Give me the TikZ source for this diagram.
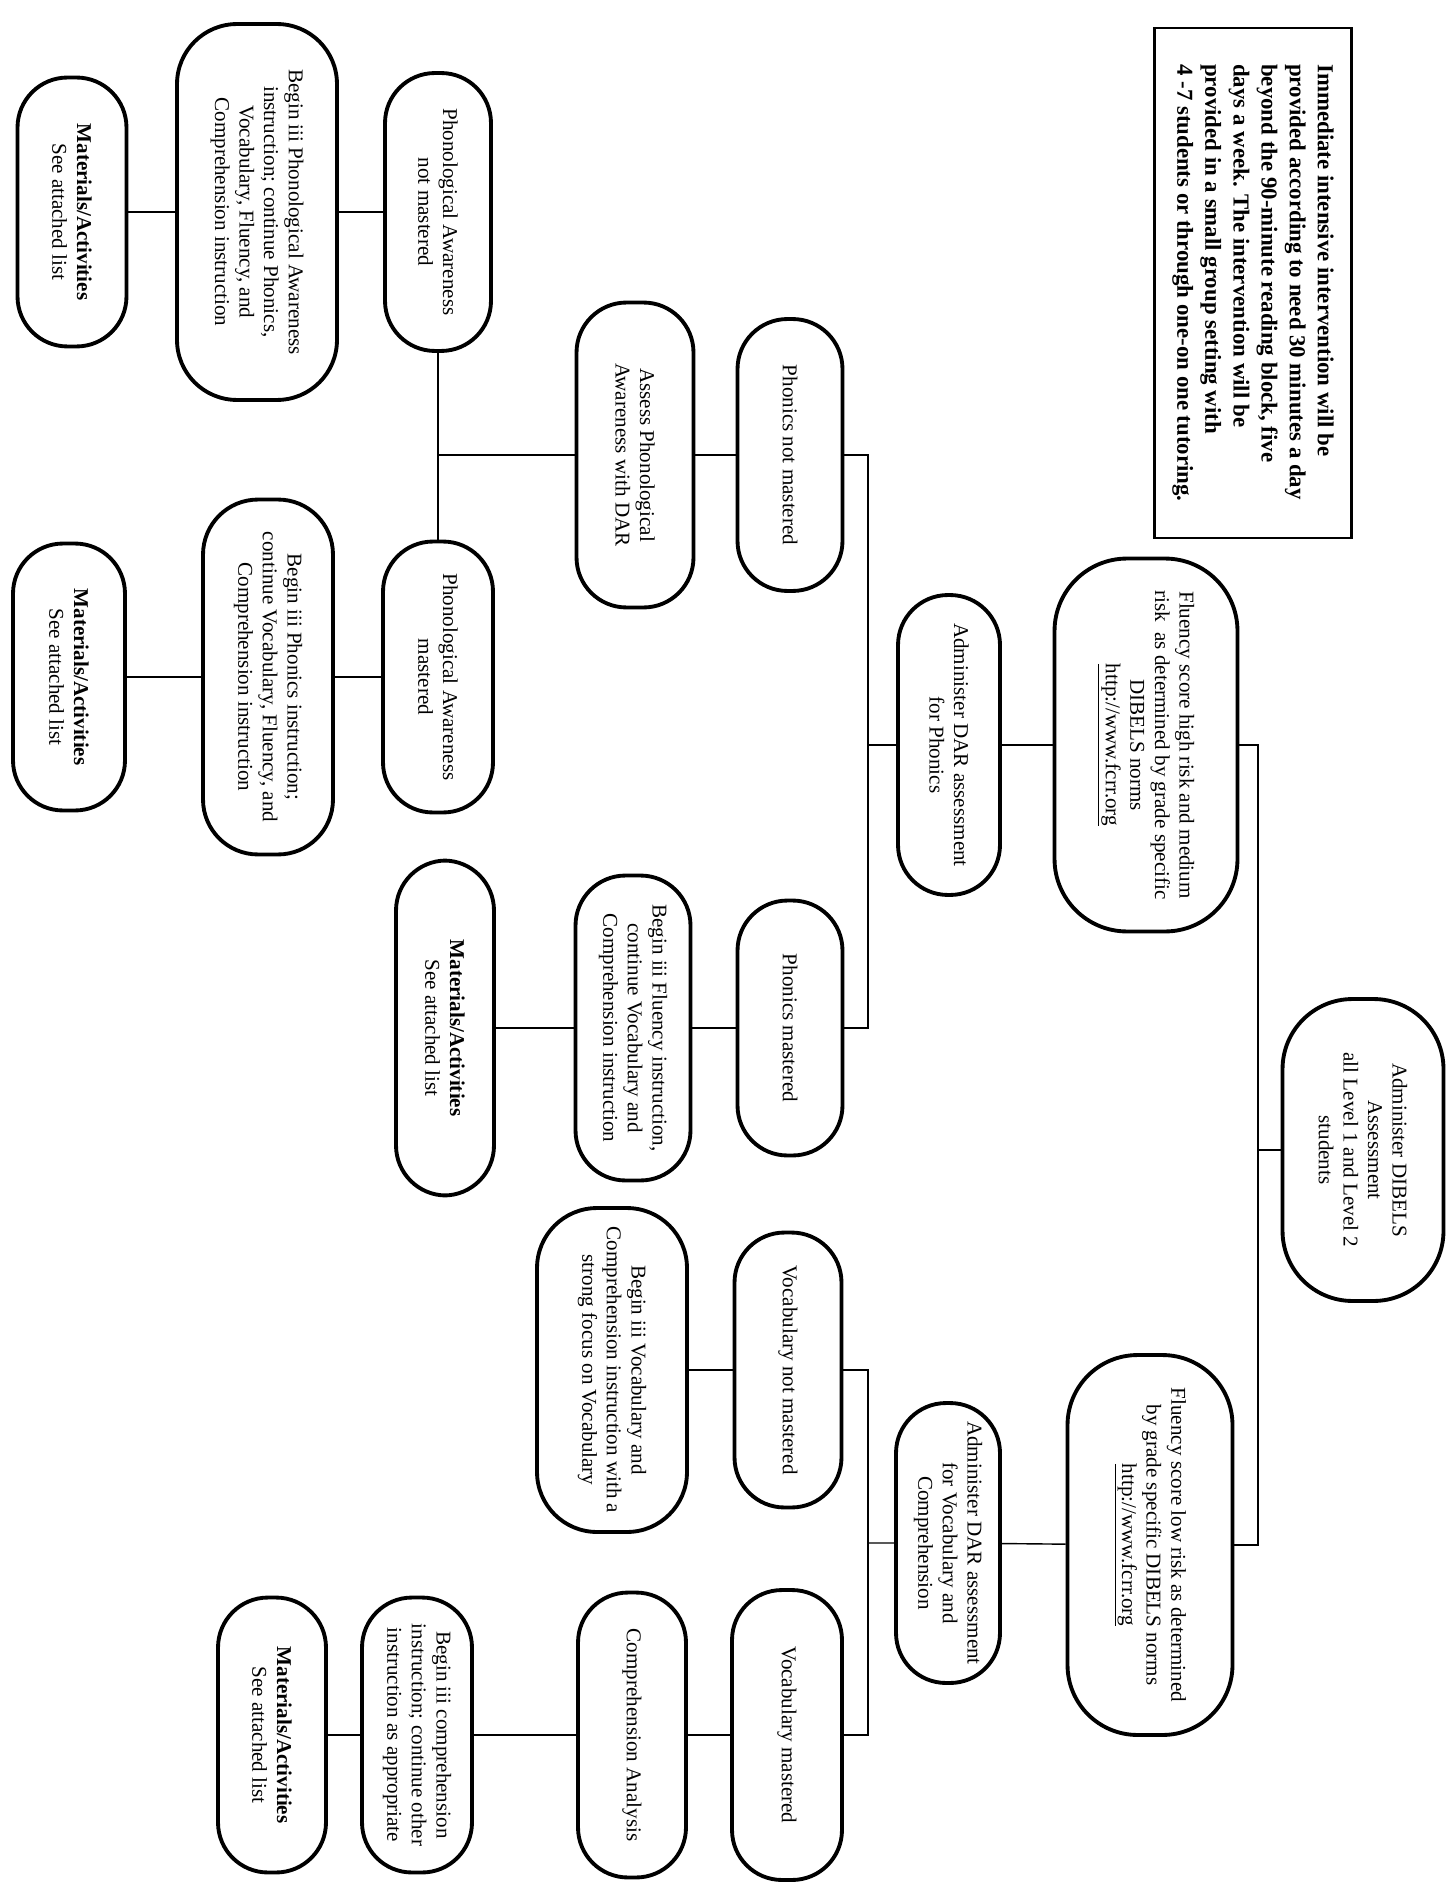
\documentclass[tikz,border=0pt]{standalone}
\usepackage{fontspec}
\setmainfont{Liberation Serif}

\begin{document}
\begin{tikzpicture}[
        x=0.02cm, y=-0.02cm,
        pill/.style={draw, line width=2.2pt, rounded corners=1cm, rotate=-90, inner sep=2pt, align=center, fill=white, font=\fontsize{12}{14}\selectfont},
        dim/.style 2 args={minimum height=#1, minimum width=#2},
        line/.style={line width=0.8pt}
    ]
        \useasboundingbox (0,0) rectangle (1450,1895);

        % note
        \node[draw, line width=1.4pt, rotate=-90, dim={3.94cm}{10.2cm}, align=left, font=\fontsize{13}{16}\bfseries\selectfont] (note) at (1253,283) {Immediate intensive intervention will be\\provided according to need 30 minutes a day\\beyond the 90-minute reading block, five\\days a week. The intervention  will be\\provided in a small group setting with\\4 -7 students or through one-on one tutoring.};

        % start and fluency split
        \node[pill, dim={3.22cm}{6.04cm}, rounded corners=1.4cm] (dibels) at (1363,1150) {Administer DIBELS\\Assessment\\all Level 1 and Level 2\\students};
        \node[pill, dim={3.66cm}{7.46cm}, rounded corners=1.45cm] (fluHigh) at (1146,745) {Fluency score high risk and medium\\risk~ as determined by grade specific\\DIBELS norms\\\underline{http://www.fcrr.org}};
        \node[pill, dim={3.3cm}{7.6cm}, rounded corners=1.4cm] (fluLow) at (1150,1545) {Fluency score low risk as determined\\by grade specific DIBELS norms\\\underline{http://www.fcrr.org}};

        % phonics branch
        \node[pill, dim={2.04cm}{6.0cm}] (adminPh) at (949,745) {Administer DAR assessment\\for Phonics};
        \node[pill, dim={2.1cm}{5.44cm}] (phNot) at (790,455) {Phonics not mastered};
        \node[pill, dim={2.1cm}{5.1cm}] (phMast) at (790,1028) {Phonics mastered};
        \node[pill, dim={2.34cm}{6.1cm}] (assessPA) at (635,455) {Assess Phonological\\Awareness with DAR};
        \node[pill, dim={2.3cm}{6.1cm}] (beginFl) at (633,1028) {Begin iii Fluency instruction,\\continue Vocabulary and\\Comprehension instruction};
        \node[pill, dim={1.96cm}{6.7cm}] (matFl) at (445,1028) {\textbf{Materials/Activities}\\See attached list};

        % phonological awareness
        \node[pill, dim={2.12cm}{5.56cm}] (paNot) at (438,212) {Phonological Awareness\\not mastered};
        \node[pill, dim={2.2cm}{5.42cm}] (paMast) at (438,677) {Phonological Awareness\\mastered};
        \node[pill, dim={3.2cm}{7.52cm}, rounded corners=1.2cm] (beginPA) at (257,212) {Begin iii Phonological Awareness\\instruction; continue Phonics,\\Vocabulary, Fluency, and\\Comprehension instruction};
        \node[pill, dim={2.6cm}{7.1cm}, rounded corners=1.1cm] (beginPh) at (268,677) {Begin iii Phonics instruction;\\continue Vocabulary, Fluency, and\\Comprehension instruction};
        \node[pill, dim={2.18cm}{5.38cm}] (matPA) at (72,212) {\textbf{Materials/Activities}\\See attached list};
        \node[pill, dim={2.24cm}{5.34cm}] (matPh) at (69,677) {\textbf{Materials/Activities}\\See attached list};

        % vocabulary branch
        \node[pill, dim={2.08cm}{5.6cm}] (adminVC) at (948,1543) {Administer DAR assessment\\for  Vocabulary and\\Comprehension};
        \node[pill, dim={2.14cm}{5.5cm}] (vocNot) at (788,1370) {Vocabulary not mastered};
        \node[pill, dim={3.0cm}{6.48cm}, rounded corners=1.2cm] (beginVoc) at (612,1370) {Begin iii Vocabulary and\\Comprehension instruction with a\\strong focus on Vocabulary};
        \node[pill, dim={2.2cm}{5.8cm}] (vocMast) at (787,1735) {Vocabulary mastered};
        \node[pill, dim={2.16cm}{5.7cm}] (compA) at (632,1735) {Comprehension Analysis};
        \node[pill, dim={2.2cm}{5.5cm}] (beginComp) at (417,1735) {Begin iii comprehension\\instruction; continue other\\instruction as appropriate};
        \node[pill, dim={2.16cm}{5.5cm}] (matComp) at (272,1735) {\textbf{Materials/Activities}\\See attached list};

        % bars
        \coordinate (barDib) at (1258,1150);
        \coordinate (barPh) at (868,745);
        \coordinate (barVC) at (868,1543);
        \coordinate (jPA) at (438,455);

        \draw[line] (fluHigh) -| (barDib) |- (fluLow);
        \draw[line] (barDib) -- (dibels);
        \draw[line] (phNot) -| (barPh) |- (phMast);
        \draw[line] (barPh) -- (adminPh) -- (fluHigh);
        \draw[line] (assessPA) -- (phNot);
        \draw[line] (jPA) -- (assessPA);
        \draw[line] (paNot) -- (paMast);
        \draw[line] (matPA) -- (beginPA) -- (paNot);
        \draw[line] (matPh) -- (beginPh) -- (paMast);
        \draw[line] (matFl) -- (beginFl) -- (phMast);
        \draw[line] (beginVoc) -- (vocNot);
        \draw[line] (vocNot) -| (barVC) |- (vocMast);
        \draw[line] (barVC) -- (adminVC) -- (fluLow);
        \draw[line] (matComp) -- (beginComp) -- (compA) -- (vocMast);
    \end{tikzpicture}
\end{document}
